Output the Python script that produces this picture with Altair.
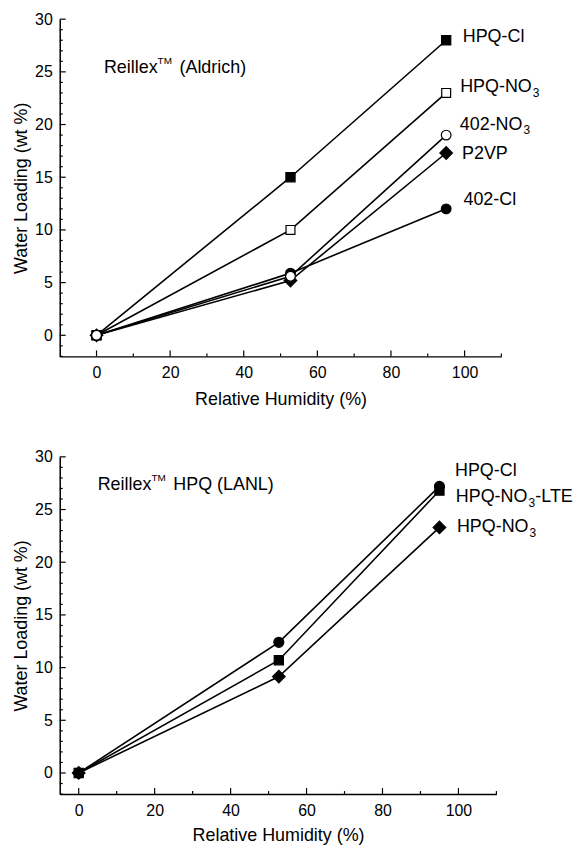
import altair as alt
import pandas as pd

FONT = "Liberation Sans"

# ---------------- data ----------------
rh = [0, 52.7, 95]

# top panel: Reillex (Aldrich)
top_hpq_cl = [0, 15.0, 28.0]
top_hpq_no3 = [0, 10.0, 23.0]
top_402_no3 = [0, 5.6, 19.0]
top_p2vp = [0, 5.2, 17.3]
top_402_cl = [0, 5.9, 12.0]

# bottom panel: Reillex HPQ (LANL)
bot_hpq_cl = [0, 12.4, 27.2]
bot_hpq_no3_lte = [0, 10.7, 26.8]
bot_hpq_no3 = [0, 9.15, 23.3]

x_labels = [0, 20, 40, 60, 80, 100]
x_minor = [10, 30, 50, 70, 90, 110]
y_labels = [0, 5, 10, 15, 20, 25, 30]
y_minor = [v for v in range(-2, 31) if v % 5 != 0]

# (name, values, shape, fill, size)
top_specs = [
    ("402-Cl", top_402_cl, "circle", "black", 95),
    ("P2VP", top_p2vp, "diamond", "black", 160),
    ("HPQ-NO3", top_hpq_no3, "square", "white", 80),
    ("HPQ-Cl", top_hpq_cl, "square", "black", 85),
    ("402-NO3", top_402_no3, "circle", "white", 95),
]
bot_specs = [
    ("HPQ-NO3", bot_hpq_no3, "diamond", "black", 160),
    ("HPQ-NO3-LTE", bot_hpq_no3_lte, "square", "black", 85),
    ("HPQ-Cl", bot_hpq_cl, "circle", "black", 100),
]

LF = 18  # label font size
# label pieces: (text, x, y, dx, dy, fontSize)
top_labels = [
    ("HPQ-Cl", 99.5, 28.3, 0, 0, LF),
    ("HPQ-NO", 98.8, 23.6, 0, 0, LF), ("3", 98.8, 23.6, 73, 6, 12),
    ("402-NO", 98.7, 20.0, 0, 0, LF), ("3", 98.7, 20.0, 64, 6, 12),
    ("P2VP", 99.3, 17.2, 0, 0, LF),
    ("402-Cl", 99.7, 12.8, 0, 0, LF),
    ("Reillex", 2.0, 25.4, 0, 0, LF), ("TM", 2.0, 25.4, 54, -7, 10),
    ("(Aldrich)", 2.0, 25.4, 76, 0, LF),
]
bot_labels = [
    ("HPQ-Cl", 99.1, 28.7, 0, 0, LF),
    ("HPQ-NO", 99.3, 26.2, 0, 0, LF), ("3", 99.3, 26.2, 73, 6, 12),
    ("-LTE", 99.3, 26.2, 80, 0, LF),
    ("HPQ-NO", 99.6, 23.3, 0, 0, LF), ("3", 99.6, 23.3, 73, 6, 12),
    ("Reillex", 5.0, 27.3, 0, 0, LF), ("TM", 5.0, 27.3, 54, -7, 10),
    ("HPQ (LANL)", 5.0, 27.3, 76, 0, LF),
]


def panel(specs, labels, xdom, W, H, xtitle_pad):
    xs = alt.Scale(domain=xdom, nice=False, zero=False)
    ys = alt.Scale(domain=[-2, 30], nice=False, zero=False)
    xax = alt.Axis(title="Relative Humidity (%)", values=x_labels, ticks=False,
                   tickSize=0, labelPadding=8.5, titlePadding=xtitle_pad, format="d")
    yax = alt.Axis(title="Water Loading (wt %)", values=y_labels, ticks=False,
                   tickSize=0, labelPadding=7.5, titlePadding=4, format="d")

    def X(f):
        return alt.X(f, scale=xs, axis=xax)

    def Y(f):
        return alt.Y(f, scale=ys, axis=yax)

    rows = []
    for name, vals, *_ in specs:
        for xv, yv in zip(rh, vals):
            rows.append({"series": name, "rh": xv, "wl": yv})
    df = pd.DataFrame(rows)

    lines = alt.Chart(df).mark_line(color="black", strokeWidth=1.6).encode(
        x=X("rh:Q"), y=Y("wl:Q"), detail="series:N", order="rh:Q",
    )

    layers = [lines]
    for name, vals, shape, fill, size in specs:
        d = pd.DataFrame({"rh": rh, "wl": vals})
        layers.append(
            alt.Chart(d).mark_point(shape=shape, filled=True, fill=fill, stroke="black",
                                    strokeWidth=1.2, size=size, opacity=1).encode(
                x=X("rh:Q"), y=Y("wl:Q"),
            )
        )

    # inward ticks
    ymaj = alt.Chart(pd.DataFrame({"v": y_labels})).mark_rule(color="black", strokeWidth=1.2).encode(
        y=Y("v:Q"), x=alt.value(0), x2=alt.value(6))
    ymin = alt.Chart(pd.DataFrame({"v": y_minor})).mark_rule(color="black", strokeWidth=1.2).encode(
        y=Y("v:Q"), x=alt.value(0), x2=alt.value(3))
    xmaj = alt.Chart(pd.DataFrame({"v": x_labels})).mark_rule(color="black", strokeWidth=1.2).encode(
        x=X("v:Q"), y=alt.value(H), y2=alt.value(H - 6))
    xmin = alt.Chart(pd.DataFrame({"v": x_minor})).mark_rule(color="black", strokeWidth=1.2).encode(
        x=X("v:Q"), y=alt.value(H), y2=alt.value(H - 3))
    layers += [ymaj, ymin, xmaj, xmin]

    for t, xv, yv, dx, dy, fs in labels:
        d = pd.DataFrame({"t": [t], "x": [xv], "y": [yv]})
        layers.append(
            alt.Chart(d).mark_text(align="left", baseline="middle", font=FONT, fontSize=fs,
                                   dx=dx, dy=dy, color="black").encode(
                x=X("x:Q"), y=Y("y:Q"), text="t:N",
            )
        )
    return alt.layer(*layers).properties(width=W, height=H)


top = panel(top_specs, top_labels, [-10, 110], 444, 339, 9.5)
bot = panel(bot_specs, bot_labels, [-5, 110], 439, 339, 8.5)

chart = alt.vconcat(top, bot, spacing=41).properties(
    padding={"left": 4, "top": 1, "right": 0, "bottom": 0}
).configure_view(stroke=None).configure_axis(
    grid=False,
    domainColor="black",
    domainWidth=1.5,
    labelColor="black",
    titleColor="black",
    labelFont=FONT,
    titleFont=FONT,
    labelFontSize=16,
    titleFontSize=18,
    titleFontWeight="normal",
)

chart.save("out.html", embed_options={"renderer": "svg", "actions": False})
